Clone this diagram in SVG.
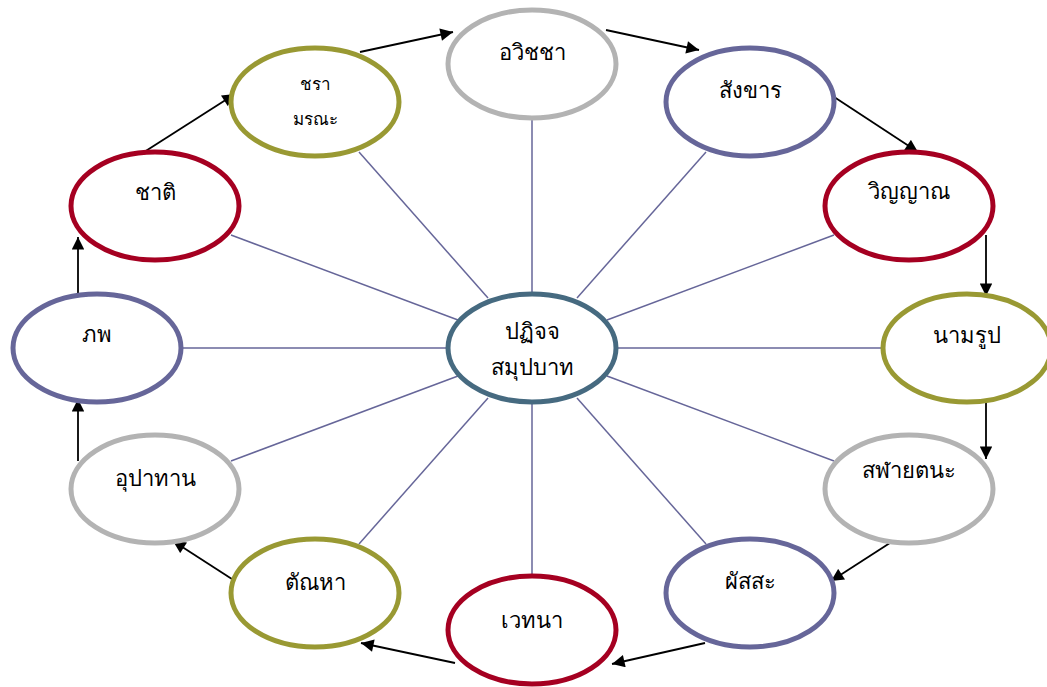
<svg xmlns="http://www.w3.org/2000/svg" width="1047" height="687" viewBox="0 0 1047 687">
<defs>
<style>
.n{fill:#fff;stroke-width:5}
.g{stroke:#b3b3b3}
.p{stroke:#666699}
.r{stroke:#a50021}
.o{stroke:#999933}
.c{stroke:#466a80}
.t{font-family:"Liberation Serif","DejaVu Serif",serif;font-size:22px;fill:#000;text-anchor:middle}
.s{font-size:17px}
.sp line{stroke:#666699;stroke-width:1.5}
.ar line{stroke:#000;stroke-width:1.8;marker-end:url(#ah)}
</style>
<marker id="ah" viewBox="0 0 10 10" refX="10" refY="5" markerWidth="8" markerHeight="7" markerUnits="strokeWidth" orient="auto">
<path d="M0,0 L10,5 L0,10 z" fill="#000"/>
</marker>
</defs>
<rect width="1047" height="687" fill="#fff"/>
<g id="connectors">
<g class="sp">
<line x1="532" y1="118" x2="532" y2="293"/>
<line x1="577" y1="298" x2="706" y2="152"/>
<line x1="607" y1="320" x2="834" y2="235"/>
<line x1="617" y1="348" x2="884" y2="348"/>
<line x1="607" y1="376" x2="834" y2="461"/>
<line x1="577" y1="398" x2="706" y2="544"/>
<line x1="532" y1="403" x2="532" y2="575"/>
<line x1="488" y1="398" x2="359" y2="544"/>
<line x1="458" y1="376" x2="231" y2="461"/>
<line x1="448" y1="348" x2="182" y2="348"/>
<line x1="458" y1="320" x2="231" y2="235"/>
<line x1="488" y1="298" x2="359" y2="152"/>
</g>
<g class="ar">
<line x1="360" y1="52" x2="453" y2="32"/>
<line x1="606" y1="30" x2="699" y2="50"/>
<line x1="825" y1="91" x2="918" y2="152"/>
<line x1="986" y1="235" x2="986" y2="296"/>
<line x1="986" y1="398" x2="986" y2="459"/>
<line x1="893" y1="541" x2="831" y2="581"/>
<line x1="705" y1="643" x2="612" y2="664"/>
<line x1="455" y1="663" x2="361" y2="643"/>
<line x1="235" y1="581" x2="173" y2="541"/>
<line x1="78" y1="461" x2="78" y2="399"/>
<line x1="78" y1="297" x2="78" y2="237"/>
<line x1="141" y1="154" x2="235" y2="94"/>
</g>
</g>
<g id="center"><ellipse class="n c" cx="532" cy="348" rx="84" ry="54"/><text class="t" x="532" y="339">ปฏิจจ</text><text class="t" x="532" y="375">สมุปบาท</text></g>
<g id="avijja"><ellipse class="n g" cx="532" cy="64" rx="84" ry="54"/><text class="t" x="532" y="60">อวิชชา</text></g>
<g id="sankhara"><ellipse class="n p" cx="750" cy="102" rx="84" ry="54"/><text class="t" x="750" y="98">สังขาร</text></g>
<g id="vinnana"><ellipse class="n r" cx="909" cy="206" rx="84" ry="54"/><text class="t" x="909" y="199">วิญญาณ</text></g>
<g id="namarupa"><ellipse class="n o" cx="967" cy="348" rx="84" ry="54"/><text class="t" x="967" y="343">นามรูป</text></g>
<g id="salayatana"><ellipse class="n g" cx="909" cy="489" rx="84" ry="54"/><text class="t" x="909" y="478">สฬายตนะ</text></g>
<g id="phassa"><ellipse class="n p" cx="750" cy="593" rx="84" ry="54"/><text class="t" x="750" y="589">ผัสสะ</text></g>
<g id="vedana"><ellipse class="n r" cx="532" cy="630" rx="84" ry="54"/><text class="t" x="532" y="628">เวทนา</text></g>
<g id="tanha"><ellipse class="n o" cx="315" cy="593" rx="84" ry="54"/><text class="t" x="315" y="590">ตัณหา</text></g>
<g id="upadana"><ellipse class="n g" cx="155" cy="489" rx="84" ry="54"/><text class="t" x="155" y="486">อุปาทาน</text></g>
<g id="bhava"><ellipse class="n p" cx="97" cy="348" rx="84" ry="54"/><text class="t" x="97" y="342">ภพ</text></g>
<g id="jati"><ellipse class="n r" cx="155" cy="206" rx="84" ry="54"/><text class="t" x="155" y="200">ชาติ</text></g>
<g id="jaramarana"><ellipse class="n o" cx="315" cy="102" rx="84" ry="54"/><text class="t s" x="315" y="90">ชรา</text><text class="t s" x="315" y="125">มรณะ</text></g>
</svg>
